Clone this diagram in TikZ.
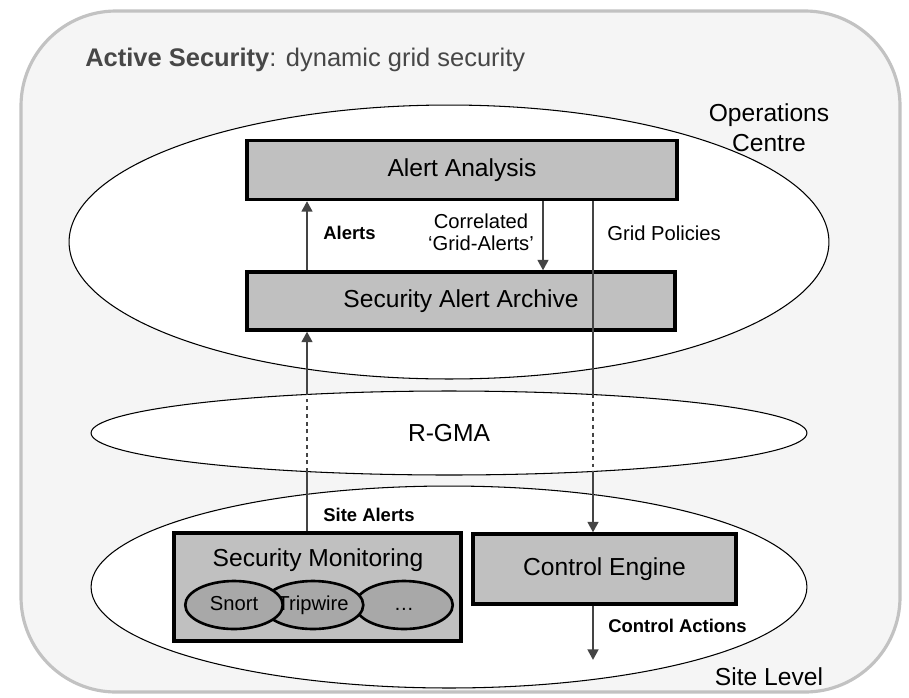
\documentclass[tikz,border=0pt]{standalone}
\usepackage{fontspec}
\setmainfont{Liberation Sans}
\usepackage{xcolor}
\usetikzlibrary{arrows.meta}
\usetikzlibrary{shapes.geometric}

\definecolor{panel}{HTML}{F5F5F5}
\definecolor{rim}{HTML}{C2C2C2}
\definecolor{boxfill}{HTML}{C0C0C0}
\definecolor{toolfill}{HTML}{A8A8A8}
\definecolor{wire}{HTML}{444444}

\tikzset{
  block/.style={draw, line width=1.8pt, fill=boxfill, inner sep=0pt, font=\fontsize{14}{16}\selectfont},
  tool/.style={ellipse, draw, line width=1.5pt, fill=toolfill, minimum width=1.95cm, minimum height=0.96cm, inner sep=0pt, text height=1.6ex, text depth=0.4ex, font=\fontsize{11.5}{13}\selectfont},
  flow/.style={wire, line width=1.6pt},
  tip/.style={-{Triangle[length=6pt,width=6pt]}},
  dots/.style={dash pattern=on 2.2pt off 2.2pt},
  tag/.style={font=\bfseries\fontsize{10.5}{12}\selectfont, anchor=west, inner sep=0pt},
  note/.style={font=\fontsize{11.5}{12.5}\selectfont, inner sep=0pt},
  zone/.style={font=\fontsize{14}{17}\selectfont, align=center, inner sep=0pt}
}

\begin{document}
\begin{tikzpicture}[x=0.02cm, y=-0.02cm]
\useasboundingbox (0,0) rectangle (909,697);

\filldraw[fill=panel, draw=rim, line width=1.8pt, rounded corners=1.9cm] (21,11) rectangle (900,692);
\node[anchor=west, inner sep=0pt, text=black!72, font=\fontsize{14.5}{17}\selectfont] (title) at (85,60) {\textbf{Active Security}: dynamic grid security};

\filldraw[fill=white, line width=0.6pt] (449,242) ellipse [x radius=7.6cm, y radius=2.74cm];
\filldraw[fill=white, line width=0.6pt] (449,433) ellipse [x radius=7.16cm, y radius=0.84cm];
\filldraw[fill=white, line width=0.6pt] (449,587) ellipse [x radius=7.16cm, y radius=2.02cm];

\node[zone] (ops) at (769,128) {Operations\\Centre};
\node[zone] (rgma) at (449,433) {R-GMA};
\node[zone] (site) at (769,677) {Site Level};

\node[block, minimum width=8.6cm, minimum height=1.18cm] (analysis) at (462,170) {Alert Analysis};
\node[block, minimum width=8.56cm, minimum height=1.16cm] (archive) at (461,301) {Security Alert Archive};
\node[block, minimum width=5.74cm, minimum height=2.16cm] (monitor) at (317.5,587) {};
\node[font=\fontsize{14}{16}\selectfont, inner sep=0pt] (montext) at (318,560) {Security Monitoring};
\node[block, minimum width=5.26cm, minimum height=1.4cm] (engine) at (604.5,569) {Control Engine};

\foreach \x/\t/\n in {404/{\dots}/more, 313/Tripwire/tripwire, 234/Snort/snort}
  \node[tool] (\n) at (\x,605) {\t};

\coordinate (lane1) at (307,0);
\coordinate (lane2) at (543,0);
\coordinate (lane3) at (593,0);
\coordinate (rtop) at (0,394);
\coordinate (rbot) at (0,472);
\coordinate (act) at (593,660);

\draw[flow,tip] (archive.north -| lane1) -- (analysis.south -| lane1);
\draw[flow,tip] (analysis.south -| lane2) -- (archive.north -| lane2);
\draw[flow] (analysis.south -| lane3) -- (rtop -| lane3);
\draw[flow,dots] (rtop -| lane3) -- (rbot -| lane3);
\draw[flow,tip] (rbot -| lane3) -- (engine.north -| lane3);
\draw[flow] (monitor.north -| lane1) -- (rbot -| lane1);
\draw[flow,dots] (rbot -| lane1) -- (rtop -| lane1);
\draw[flow,tip] (rtop -| lane1) -- (archive.south -| lane1);
\draw[flow,tip] (engine.south -| lane3) -- (act);

\node[tag] (alertsl) at (323,233) {Alerts};
\node[note, align=center] (corrl) at (481,232) {Correlated\\`Grid-Alerts'};
\node[note, anchor=west] (gridl) at (607,233) {Grid Policies};
\node[tag] (sitel) at (323,515) {Site Alerts};
\node[tag] (actl) at (608,626) {Control Actions};
\end{tikzpicture}
\end{document}
